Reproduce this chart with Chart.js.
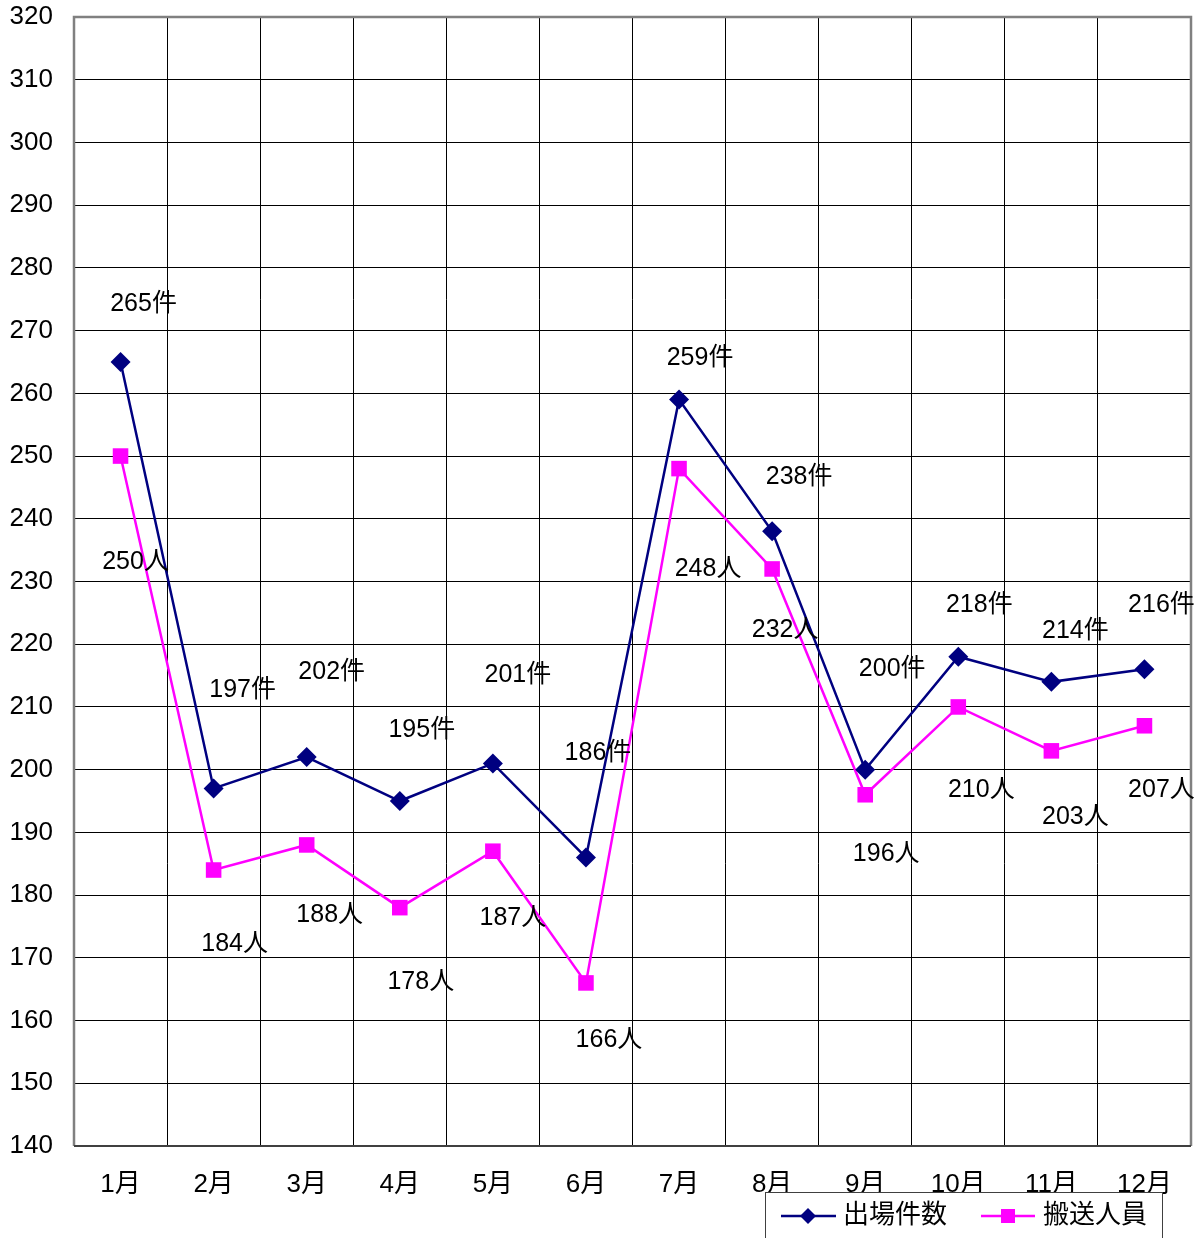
<!DOCTYPE html>
<html>
<head>
<meta charset="utf-8">
<script src="https://cdn.jsdelivr.net/npm/chart.js@4"></script>
<style>
  html, body { margin: 0; padding: 0; background: #fff; }
  #wrap { width: 1202px; height: 1238px; position: relative; }
</style>
</head>
<body>
<div id="wrap"><canvas id="dispatchChart"></canvas></div>
<script>
const months = ['1月', '2月', '3月', '4月', '5月', '6月', '7月', '8月', '9月', '10月', '11月', '12月'];
const dispatchCounts = [265, 197, 202, 195, 201, 186, 259, 238, 200, 218, 214, 216];
const transported = [250, 184, 188, 178, 187, 166, 248, 232, 196, 210, 203, 207];
const yMin = 140;
const yMax = 320;
const yStep = 10;

// label placement (pixel offsets from each point, as in the original sheet)
const countLabelDx = [23, 29, 25, 22, 25, 12, 21, 27, 27, 21, 24, 17];
const countLabelDy = [-60, -100, -87, -73, -90, -106, -43, -56, -103, -54, -53, -66];
const peopleLabelDx = [15, 21, 23, 21, 20, 23, 29, 13, 21, 23, 24, 17];
const peopleLabelDy = [104, 72, 68, 72, 65, 55, 99, 59, 57, 81, 64, 62];

const FONT = '"Liberation Sans", Arial, "Noto Sans CJK JP", sans-serif';
const NAVY = '#000080';
const MAGENTA = '#FF00FF';

const extras = {
    id: 'extras',
    afterDatasetsDraw(chart) {
        const ctx = chart.ctx;
        const area = chart.chartArea;
        ctx.save();
        // plot frame
        ctx.strokeStyle = '#808080';
        ctx.lineWidth = 2.5;
        ctx.beginPath();
        ctx.moveTo(area.left, area.bottom);
        ctx.lineTo(area.left, area.top);
        ctx.lineTo(area.right, area.top);
        ctx.lineTo(area.right, area.bottom);
        ctx.stroke();
        ctx.strokeStyle = '#404040';
        ctx.lineWidth = 2;
        ctx.beginPath();
        ctx.moveTo(area.left, area.bottom);
        ctx.lineTo(area.right, area.bottom);
        ctx.stroke();

        // data labels
        ctx.font = '25px ' + FONT;
        ctx.fillStyle = '#000';
        ctx.textAlign = 'center';
        ctx.textBaseline = 'middle';
        const m0 = chart.getDatasetMeta(0);
        const m1 = chart.getDatasetMeta(1);
        dispatchCounts.forEach((v, i) => {
            const p = m0.data[i];
            ctx.fillText(v + '件', p.x + countLabelDx[i], p.y + countLabelDy[i] + 2);
        });
        transported.forEach((v, i) => {
            const p = m1.data[i];
            ctx.fillText(v + '人', p.x + peopleLabelDx[i], p.y + peopleLabelDy[i] + 2);
        });
        ctx.restore();
    },
    afterDraw(chart) {
        const ctx = chart.ctx;
        ctx.save();
        // legend box
        const lx = 765, ly = 1192, lw = 397, lh = 50;
        ctx.fillStyle = '#fff';
        ctx.fillRect(lx, ly, lw, lh);
        ctx.strokeStyle = '#404040';
        ctx.lineWidth = 1;
        ctx.strokeRect(lx + 0.5, ly + 0.5, lw, lh);
        const cy = 1216;
        ctx.lineWidth = 2.5;
        ctx.strokeStyle = NAVY;
        ctx.beginPath(); ctx.moveTo(781, cy); ctx.lineTo(836, cy); ctx.stroke();
        ctx.fillStyle = NAVY;
        ctx.beginPath();
        ctx.moveTo(808, cy - 8); ctx.lineTo(816, cy); ctx.lineTo(808, cy + 8); ctx.lineTo(800, cy);
        ctx.closePath(); ctx.fill();
        ctx.lineWidth = 2.5;
        ctx.strokeStyle = MAGENTA;
        ctx.beginPath(); ctx.moveTo(981, cy); ctx.lineTo(1035, cy); ctx.stroke();
        ctx.fillStyle = MAGENTA;
        ctx.fillRect(1001, cy - 7, 14, 14);
        ctx.fillStyle = '#000';
        ctx.font = '26px ' + FONT;
        ctx.textAlign = 'left';
        ctx.textBaseline = 'middle';
        ctx.fillText('出場件数', 843, cy);
        ctx.fillText('搬送人員', 1043, cy);
        ctx.restore();
    }
};

const ctx = document.getElementById('dispatchChart').getContext('2d');
new Chart(ctx, {
    type: 'line',
    data: {
        labels: months,
        datasets: [
            {
                label: '出場件数',
                data: dispatchCounts,
                borderColor: NAVY,
                backgroundColor: NAVY,
                borderWidth: 2.5,
                pointStyle: 'rectRot',
                pointRadius: 10,
                pointBorderWidth: 0,
                tension: 0
            },
            {
                label: '搬送人員',
                data: transported,
                borderColor: MAGENTA,
                backgroundColor: MAGENTA,
                borderWidth: 2.5,
                pointStyle: 'rect',
                pointRadius: 11,
                pointBorderWidth: 0,
                tension: 0
            }
        ]
    },
    options: {
        responsive: true,
        maintainAspectRatio: false,
        animation: false,
        devicePixelRatio: 1,
        layout: { padding: { top: 17, right: 11, left: 0, bottom: 0 } },
        plugins: {
            legend: { display: false },
            tooltip: { enabled: false }
        },
        scales: {
            x: {
                offset: true,
                grid: { offset: true, color: '#000', lineWidth: 1, drawTicks: false },
                border: { display: false },
                ticks: { color: '#000', font: { size: 26, family: FONT }, padding: 23, maxRotation: 0, autoSkip: false },
                afterFit: (scale) => {
                    scale.height = 92;
                    scale.paddingLeft = 0;
                    scale.paddingRight = 0;
                }
            },
            y: {
                min: yMin,
                max: yMax,
                grid: { color: '#000', lineWidth: 1, drawTicks: false },
                border: { display: false },
                ticks: { stepSize: yStep, color: '#000', font: { size: 26, family: FONT }, padding: 21 },
                afterFit: (scale) => {
                    scale.width = 74;
                    scale.paddingTop = 0;
                    scale.paddingBottom = 0;
                }
            }
        }
    },
    plugins: [extras]
});
</script>
</body>
</html>
